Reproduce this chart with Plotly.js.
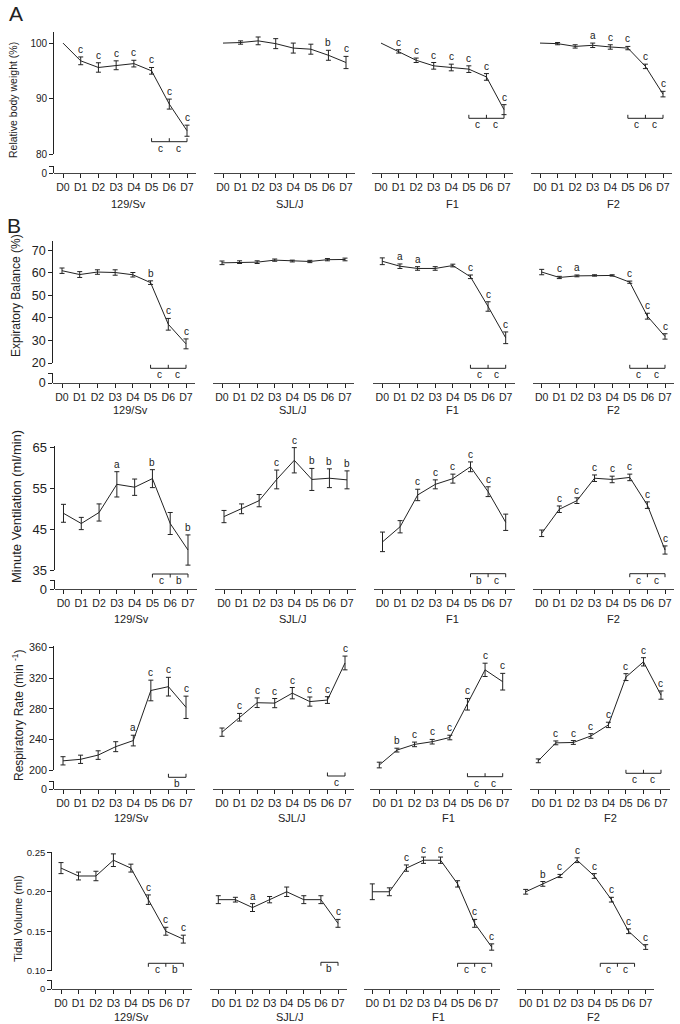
<!DOCTYPE html>
<html>
<head>
<meta charset="utf-8">
<script src="https://cdn.plot.ly/plotly-3.0.1.min.js"></script>
<style>html,body{margin:0;padding:0;background:#fff;}#chart{width:680px;height:1024px;}</style>
</head>
<body>
<div id="chart"></div>
<script>
const days = ['D0','D1','D2','D3','D4','D5','D6','D7'];
const strains = ['129/Sv','SJL/J','F1','F2'];

// Relative body weight (%)  [129/Sv, SJL/J, F1, F2]
const bwMean = [
  [100, 96.8, 95.6, 96.0, 96.3, 95.0, 89.0, 84.2],
  [100, 100.1, 100.4, 99.9, 99.1, 98.9, 97.8, 96.5],
  [100, 98.5, 96.9, 95.9, 95.6, 95.3, 93.9, 88.0],
  [100, 99.9, 99.4, 99.6, 99.3, 99.1, 95.8, 90.8]];
const bwErr = [
  [null, 0.7, 0.85, 0.8, 0.6, 0.6, 0.9, 1.0],
  [null, 0.3, 0.7, 0.9, 0.9, 0.9, 0.9, 1.1],
  [null, 0.3, 0.4, 0.6, 0.6, 0.6, 0.6, 0.9],
  [null, 0.2, 0.3, 0.4, 0.4, 0.3, 0.4, 0.5]];
const bwSig = [
  ['', 'c', 'c', 'c', 'c', 'c', 'c', 'c'],
  ['', '', '', '', '', '', 'b', 'c'],
  ['', 'c', 'c', 'c', 'c', 'c', 'c', 'c'],
  ['', '', '', 'a', 'c', 'c', 'c', 'c']];
const bwBracket = [['c', 'c'], [], ['c', 'c'], ['c', 'c']];

// Expiratory Balance (%)
const ebMean = [
  [61.0, 59.3, 60.4, 60.2, 59.2, 55.7, 37.2, 28.5],
  [64.5, 64.8, 64.8, 65.7, 65.3, 65.1, 65.9, 66.0],
  [65.2, 63.0, 62.0, 62.0, 63.3, 58.3, 45.1, 31.2],
  [60.4, 58.0, 58.7, 58.9, 58.9, 55.9, 40.8, 31.8]];
const ebErr = [
  [1.2, 1.3, 1.0, 1.2, 1.0, 0.8, 2.6, 2.2],
  [0.8, 0.6, 0.6, 0.5, 0.4, 0.5, 0.5, 0.6],
  [1.5, 1.0, 0.8, 0.8, 0.6, 0.8, 2.1, 2.6],
  [1.2, 0.5, 0.4, 0.3, 0.3, 0.5, 1.3, 1.2]];
const ebSig = [
  ['', '', '', '', '', 'b', 'c', 'c'],
  ['', '', '', '', '', '', '', ''],
  ['', 'a', 'a', '', '', 'c', 'c', 'c'],
  ['', 'c', 'a', '', '', 'c', 'c', 'c']];
const ebBracket = [['c', 'c'], [], ['c', 'c'], ['c', 'c']];

// Minute Ventilation (ml/min)
const mvMean = [
  [48.9, 46.4, 49.1, 56.0, 55.3, 57.4, 46.4, 39.9],
  [48.1, 50.0, 52.0, 57.2, 61.9, 57.2, 57.5, 57.1],
  [41.9, 45.6, 53.4, 56.0, 57.4, 60.3, 54.2, 46.7],
  [44.0, 49.9, 52.0, 57.5, 57.2, 57.7, 50.9, 39.9]];
const mvErr = [
  [2.2, 1.5, 2.1, 3.1, 2.0, 2.2, 2.7, 3.7],
  [1.5, 1.2, 1.5, 2.3, 3.1, 2.7, 2.3, 2.2],
  [2.4, 1.5, 1.4, 1.1, 1.1, 1.2, 1.2, 2.0],
  [0.8, 0.8, 0.7, 0.8, 0.8, 0.8, 0.8, 1.0]];
const mvSig = [
  ['', '', '', 'a', '', 'b', '', 'b'],
  ['', '', '', 'c', 'c', 'b', 'b', 'b'],
  ['', '', 'c', 'c', 'c', 'c', 'c', ''],
  ['', 'c', 'c', 'c', 'c', 'c', 'c', 'c']];
const mvBracket = [['c', 'b'], [], ['b', 'c'], ['c', 'c']];

// Respiratory Rate (min-1)
const rrMean = [
  [212, 214, 219.5, 230.5, 238.5, 304, 309, 282],
  [249.5, 269, 288, 287.5, 300.5, 289.5, 291.5, 340],
  [206.5, 226, 233.5, 237, 242.5, 286, 331, 315.5],
  [212, 235.5, 236, 244.5, 259, 321.5, 341.5, 298]];
const rrErr = [
  [5.4, 5.4, 5.6, 6.5, 7, 13.5, 12.2, 14.6],
  [5.4, 5, 6.3, 6, 7.4, 6, 4.4, 9],
  [3.7, 2.5, 3, 3, 3, 7.6, 8.7, 10.9],
  [2.5, 2.5, 2.5, 3, 3.5, 4.5, 5.4, 5.4]];
const rrSig = [
  ['', '', '', '', 'a', 'c', 'c', 'c'],
  ['', 'c', 'c', 'c', 'c', 'c', 'c', 'c'],
  ['', 'b', 'c', 'c', 'c', 'c', 'c', 'c'],
  ['', 'c', 'c', 'c', 'c', 'c', 'c', 'c']];
const rrBracket = [['b'], ['c'], ['c', 'c'], ['c', 'c']];

// Tidal Volume (ml)
const tvMean = [
  [0.23, 0.22, 0.22, 0.24, 0.23, 0.19, 0.15, 0.14],
  [0.19, 0.19, 0.18, 0.19, 0.20, 0.19, 0.19, 0.16],
  [0.20, 0.20, 0.23, 0.24, 0.24, 0.21, 0.16, 0.13],
  [0.20, 0.21, 0.22, 0.24, 0.22, 0.19, 0.15, 0.13]];
const tvErr = [
  [0.007, 0.005, 0.006, 0.008, 0.005, 0.006, 0.005, 0.005],
  [0.005, 0.003, 0.005, 0.004, 0.006, 0.005, 0.005, 0.005],
  [0.010, 0.005, 0.004, 0.004, 0.004, 0.004, 0.005, 0.004],
  [0.003, 0.003, 0.002, 0.003, 0.003, 0.003, 0.003, 0.003]];
const tvSig = [
  ['', '', '', '', '', 'c', 'c', 'c'],
  ['', '', 'a', '', '', '', '', 'c'],
  ['', '', 'c', 'c', 'c', '', 'c', 'c'],
  ['', 'b', 'c', 'c', 'c', 'c', 'c', 'c']];
const tvBracket = [['c', 'b'], ['b'], ['c', 'c'], ['c', 'c']];

const measures = [
  {mean: bwMean, err: bwErr, sig: bwSig, br: bwBracket, title: 'Relative body weight (%)'},
  {mean: ebMean, err: ebErr, sig: ebSig, br: ebBracket, title: 'Expiratory Balance (%)'},
  {mean: mvMean, err: mvErr, sig: mvSig, br: mvBracket, title: 'Minute Ventilation (ml/min)'},
  {mean: rrMean, err: rrErr, sig: rrSig, br: rrBracket, title: 'Respiratory Rate (min <sup>-1</sup>)'},
  {mean: tvMean, err: tvErr, sig: tvSig, br: tvBracket, title: 'Tidal Volume (ml)'}
];

// ---- layout geometry (pixels) ----
const W = 680, H = 1024;
const geo = [
  {lo: 80, hi: 102, top: 32, bot: 154, zTop: 166, axisY: 173, ticks: [80, 90, 100], fmt: '',
   d0: [63, 223, 381, 540], d7: [187, 346, 504, 663], brPx: [141.7, null, 118.3, 118.3], brDir: 1, brShift: [0, 0, 0, 0],
   titleX: 13, titleY: 100, titleSize: 10.5, yTickSize: 10, labelY: 204, labelX: [128, 290, 452, 613]},
  {lo: 20, hi: 74.2, top: 241, bot: 363, zTop: 373, axisY: 383, ticks: [20, 30, 40, 50, 60, 70], fmt: '',
   d0: [62, 222, 382.3, 541.7], d7: [186, 345, 505.7, 665], brPx: [368.3, null, 368.3, 368.3], brDir: 1, brShift: [0, 0, 0, 0],
   titleX: 16, titleY: 296, titleSize: 12, yTickSize: 12.5, labelY: 410, labelX: [130, 293, 452, 613]},
  {lo: 35, hi: 65.4, top: 446, bot: 570, zTop: 580, axisY: 589, ticks: [35, 45, 55, 65], fmt: '',
   d0: [63.5, 224, 382.5, 541.7], d7: [188, 347, 505.7, 665], brPx: [574, null, 573.7, 573.7], brDir: -1, brShift: [0, 0, 0, 0],
   titleX: 16, titleY: 507, titleSize: 13, yTickSize: 13, labelY: 619, labelX: [131, 293, 452, 613]},
  {lo: 200, hi: 362.2, top: 646, bot: 770, zTop: 781, axisY: 789, ticks: [200, 240, 280, 320, 360], fmt: '',
   d0: [63, 222, 379.3, 538.3], d7: [186, 345, 502.7, 661], brPx: [777.3, 776, 776.7, 773.3], brDir: 1, brShift: [0, 0, 0, 0],
   titleX: 18, titleY: 715, titleSize: 12, yTickSize: 10.8, labelY: 818, labelX: [131, 292, 448, 610]},
  {lo: 0.10, hi: 0.2504, top: 852, bot: 970.7, zTop: 980, axisY: 989, ticks: [0.10, 0.15, 0.20, 0.25], fmt: '.2f',
   d0: [61, 218.3, 372.3, 525.7], d7: [183.3, 338, 491.7, 645.7], brPx: [963.3, 962.3, 963.3, 963.3], brDir: -1, brShift: [0, 0, 0, -0.65],
   titleX: 18, titleY: 919, titleSize: 11.2, yTickSize: 9.6, labelY: 1017, labelX: [131, 290, 438, 593]}
];

const INK = '#222222';
const FONT = 'Liberation Sans, Arial, Helvetica, sans-serif';
const fy = px => 1 - px / H;
const fx = px => px / W;
const sfx = n => (n === 1 ? '' : String(n));

const data = [];
const shapes = [];
const annotations = [];
const layout = {
  width: W, height: H,
  margin: {l: 0, r: 0, t: 0, b: 0},
  showlegend: false,
  paper_bgcolor: '#ffffff',
  plot_bgcolor: 'rgba(0,0,0,0)',
  font: {family: FONT, color: INK, size: 10},
  hovermode: false
};

geo.forEach((g, r) => {
  const m = measures[r];
  const ppu = (g.bot - g.top) / (g.hi - g.lo);
  const extLo = g.lo - (g.axisY - g.bot) / ppu;
  const pxToVal = px => g.lo - (px - g.bot) / ppu;

  const yData = 3 * r + 1, yVis = 3 * r + 2, yZero = 3 * r + 3;
  const xFirst = 4 * r + 1;

  layout['yaxis' + sfx(yData)] = {
    domain: [fy(g.axisY), fy(g.top)], range: [extLo, g.hi], visible: false,
    anchor: 'x' + sfx(xFirst), fixedrange: true, showgrid: false, zeroline: false
  };
  layout['yaxis' + sfx(yVis)] = {
    domain: [fy(g.bot), fy(g.top)], range: [g.lo, g.hi], anchor: 'x' + sfx(xFirst),
    tickvals: g.ticks, tickformat: g.fmt, showline: true, linecolor: INK, linewidth: 1,
    ticks: 'outside', ticklen: 4, tickwidth: 1, tickcolor: INK,
    tickfont: {size: g.yTickSize, family: FONT, color: INK},
    showgrid: false, zeroline: false, fixedrange: true
  };
  layout['yaxis' + sfx(yZero)] = {
    domain: [fy(g.axisY), fy(g.zTop)], range: [0, 1], anchor: 'x' + sfx(xFirst),
    tickvals: [0], ticktext: ['0'], showline: true, linecolor: INK, linewidth: 1,
    ticks: 'outside', ticklen: 4, tickwidth: 1, tickcolor: INK,
    minor: {tickvals: [1], ticks: 'outside', ticklen: 4, tickwidth: 1, tickcolor: INK, showgrid: false},
    tickfont: {size: g.yTickSize, family: FONT, color: INK},
    showgrid: false, zeroline: false, fixedrange: true
  };

  // y-axis title
  annotations.push({
    xref: 'paper', yref: 'paper', x: fx(g.titleX), y: fy(g.titleY), text: m.title,
    textangle: -90, showarrow: false, xanchor: 'center', yanchor: 'middle',
    font: {size: g.titleSize, family: FONT, color: INK}
  });

  for (let c = 0; c < 4; c++) {
    const xi = xFirst + c;
    const xid = 'x' + sfx(xi);
    const yid = 'y' + sfx(yData);
    const step = (g.d7[c] - g.d0[c]) / 7;
    layout['xaxis' + sfx(xi)] = {
      domain: [fx(g.d0[c] - step / 2), fx(g.d7[c] + step / 2)],
      type: 'category', categoryorder: 'array', categoryarray: days,
      range: [-0.5, 7.5], anchor: 'free', position: fy(g.axisY),
      showline: true, linecolor: '#444444', linewidth: 1.3,
      ticks: 'outside', ticklen: 4, tickwidth: 1, tickcolor: INK,
      tickfont: {size: 10.5, family: FONT, color: INK},
      showgrid: false, zeroline: false, fixedrange: true
    };

    data.push({
      type: 'scatter', mode: 'lines', x: days, y: m.mean[c],
      xaxis: xid, yaxis: yid,
      line: {color: INK, width: 1},
      error_y: {type: 'data', symmetric: true, visible: true,
        array: m.err[c].map(v => (v == null ? NaN : v)),
        width: 2.5, thickness: 1, color: INK},
      hoverinfo: 'skip', name: strains[c]
    });

    // significance letters above points
    m.sig[c].forEach((s, i) => {
      if (!s) return;
      const e = m.err[c][i] == null ? 0 : m.err[c][i];
      annotations.push({
        xref: xid, yref: yid, x: i, y: m.mean[c][i] + e, text: s, showarrow: false,
        xanchor: 'center', yanchor: 'bottom', yshift: 0,
        font: {size: 10, family: FONT, color: INK}
      });
    });

    // bracket below late days
    const br = m.br[c];
    if (br.length) {
      const n = br.length;
      const start = 7 - n + g.brShift[c];
      const by = pxToVal(g.brPx[c]);
      shapes.push({type: 'line', xref: xid, yref: yid, x0: start, x1: start + n, y0: by, y1: by,
        line: {color: INK, width: 1}});
      for (let k = 0; k <= n; k++) {
        shapes.push({type: 'line', xref: xid, yref: yid, x0: start + k, x1: start + k,
          ysizemode: 'pixel', yanchor: by, y0: 0, y1: 3.5 * g.brDir,
          line: {color: INK, width: 1}});
      }
      br.forEach((s, k) => {
        annotations.push({
          xref: xid, yref: yid, x: start + k + 0.5, y: by, text: s, showarrow: false,
          xanchor: 'center', yanchor: 'middle', yshift: -6.5,
          font: {size: 10, family: FONT, color: INK}
        });
      });
    }

    // strain label
    annotations.push({
      xref: 'paper', yref: 'paper', x: fx(g.labelX[c]), y: fy(g.labelY), text: strains[c],
      showarrow: false, xanchor: 'center', yanchor: 'middle',
      font: {size: 11, family: FONT, color: INK}
    });
  }

  // placeholder traces so the visible first-column axes are drawn
  data.push({type: 'scatter', mode: 'lines', x: [null], y: [null], xaxis: 'x' + sfx(xFirst), yaxis: 'y' + sfx(yVis), hoverinfo: 'skip'});
  data.push({type: 'scatter', mode: 'lines', x: [null], y: [null], xaxis: 'x' + sfx(xFirst), yaxis: 'y' + sfx(yZero), hoverinfo: 'skip'});
});

// panel letters
annotations.push({xref: 'paper', yref: 'paper', x: fx(16), y: fy(13), text: 'A', showarrow: false,
  xanchor: 'center', yanchor: 'middle', font: {size: 21, family: FONT, color: INK}});
annotations.push({xref: 'paper', yref: 'paper', x: fx(14), y: fy(225), text: 'B', showarrow: false,
  xanchor: 'center', yanchor: 'middle', font: {size: 21, family: FONT, color: INK}});

layout.shapes = shapes;
layout.annotations = annotations;

Plotly.newPlot('chart', data, layout, {staticPlot: true, displayModeBar: false, responsive: false});
</script>
</body>
</html>
